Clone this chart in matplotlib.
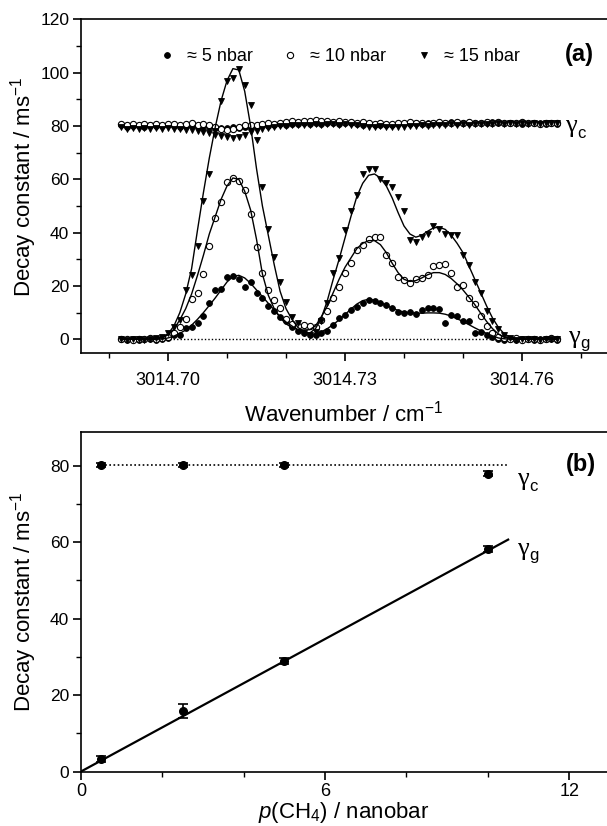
import matplotlib
matplotlib.use('Agg')
import matplotlib.pyplot as plt
from matplotlib.ticker import MultipleLocator, FixedLocator, FormatStrFormatter

plt.rcParams['font.family'] = ['Liberation Sans', 'DejaVu Sans']
plt.rcParams['mathtext.fontset'] = 'custom'
plt.rcParams['mathtext.rm'] = 'Liberation Sans'
plt.rcParams['mathtext.it'] = 'Liberation Sans:italic'
plt.rcParams['mathtext.bf'] = 'Liberation Sans:bold'

# ---- panel (a): decay constants vs wavenumber ----
wn = [3014.692, 3014.693, 3014.694, 3014.695, 3014.696, 3014.697, 3014.698, 3014.699, 3014.700, 3014.701,
      3014.702, 3014.703, 3014.704, 3014.705, 3014.706, 3014.707, 3014.708, 3014.709, 3014.710, 3014.711,
      3014.712, 3014.713, 3014.714, 3014.715, 3014.716, 3014.717, 3014.718, 3014.719, 3014.720, 3014.721,
      3014.722, 3014.723, 3014.724, 3014.725, 3014.726, 3014.727, 3014.728, 3014.729, 3014.730, 3014.731,
      3014.732, 3014.733, 3014.734, 3014.735, 3014.736, 3014.737, 3014.738, 3014.739, 3014.740, 3014.741,
      3014.742, 3014.743, 3014.744, 3014.745, 3014.746, 3014.747, 3014.748, 3014.749, 3014.750, 3014.751,
      3014.752, 3014.753, 3014.754, 3014.755, 3014.756, 3014.757, 3014.758, 3014.759, 3014.760, 3014.761,
      3014.762, 3014.763, 3014.764, 3014.765, 3014.766]

# gamma_g data points
g5 = [0.2, -0.1, 0.1, -0.2, 0.0, 0.3, -0.1, 0.2, 0.4, 1.8,
      1.5, 4.2, 4.8, 6.2, 8.8, 13.5, 18.5, 19.0, 23.2, 23.8,
      22.6, 19.8, 21.4, 17.2, 15.5, 12.6, 10.5, 8.3, 6.8, 4.6,
      3.2, 2.3, 1.6, 1.5, 2.2, 3.0, 5.5, 8.0, 9.0, 11.0,
      12.3, 13.8, 14.6, 14.3, 13.5, 12.8, 11.6, 10.3, 10.0, 10.4,
      9.5, 11.0, 11.6, 11.9, 11.2, 6.0, 9.0, 8.8, 7.0, 6.8,
      2.5, 2.8, 1.5, 0.8, 0.3, -0.2, 0.1, -0.1, 0.2, 0.0,
      -0.2, 0.1, 0.0, 0.2, -0.1]
g10 = [0.1, 0.3, -0.2, 0.2, 0.0, 0.4, 0.1, 0.5, 0.8, 2.5,
       4.5, 7.8, 15.0, 17.5, 24.5, 35.0, 45.5, 51.5, 59.0, 60.4,
       59.5, 56.0, 47.0, 34.8, 24.8, 18.5, 14.7, 11.6, 7.5, 5.8,
       5.0, 5.4, 5.0, 4.5, 7.2, 10.8, 15.5, 19.5, 25.0, 28.7,
       33.5, 35.4, 37.5, 38.2, 38.3, 31.6, 28.5, 23.5, 22.2, 21.2,
       22.7, 23.0, 24.0, 27.5, 27.8, 28.1, 24.8, 19.5, 20.3, 15.6,
       13.1, 8.7, 4.9, 2.2, 1.0, 0.4, 0.2, 0.5, -0.1, 0.3,
       0.1, -0.2, 0.2, 0.5, 0.1]
g15 = [0.0, -0.2, 0.2, 0.1, -0.1, 0.3, 0.5, 1.0, 2.5, 4.5,
       7.2, 18.5, 24.0, 35.0, 52.0, 62.0, 78.0, 89.5, 96.7, 97.9,
       101.5, 95.3, 88.0, 74.8, 57.0, 41.5, 31.0, 21.5, 14.0, 8.5,
       6.0, 2.5, 1.8, 2.8, 7.0, 13.5, 25.0, 30.5, 41.0, 48.0,
       54.0, 61.9, 63.8, 63.8, 60.0, 58.5, 57.0, 53.5, 48.0, 37.3,
       36.5, 38.5, 39.5, 42.5, 41.5, 39.5, 39.1, 39.0, 31.5, 28.0,
       21.5, 17.5, 10.5, 7.0, 4.0, 1.5, 0.4, -0.2, 0.3, 0.0,
       0.2, -0.1, 0.1, 0.0, 0.2]

# fitted curves for gamma_g
fit5 = [0, 0, 0, 0, 0, 0, 0, 0.1, 0.5, 1.2,
        2.2, 3.5, 5.3, 7.5, 10, 12.7, 15.5, 18.5, 21.5, 23.5,
        24, 23, 21, 18.5, 16, 13.5, 11, 8.5, 6.5, 5,
        3.5, 2.3, 1.8, 2, 2.8, 4, 5.5, 7.3, 9.3, 11.3,
        13.2, 14.5, 15, 14.7, 13.8, 12.7, 11.7, 10.8, 10.2, 9.9,
        9.8, 9.8, 9.9, 9.9, 9.8, 9.4, 8.7, 7.7, 6.7, 5.5,
        4.3, 3.2, 2.2, 1.3, 0.5, 0.2, 0, 0, 0, 0,
        0, 0, 0, 0, 0]
fit10 = [0, 0, 0, 0, 0, 0, 0.2, 0.6, 1.7, 3.8,
         7.3, 11.5, 17, 24, 31.5, 39.5, 46, 52.5, 57.5, 60.5,
         60, 55.5, 48.5, 37.5, 24.5, 16.5, 11.5, 8, 5.8, 4.4,
         3.7, 3.5, 3.6, 5, 8.5, 12.5, 17.5, 22.5, 27, 30.5,
         34, 36, 37, 37, 35.5, 32.5, 28.5, 25, 22.5, 21.7,
         22, 23, 24.2, 25, 25, 24.3, 22.8, 20.8, 18.5, 15.8,
         13, 9.8, 6.7, 4, 2, 0.8, 0.3, 0, 0, 0,
         0, 0, 0, 0, 0]
fit15 = [0, 0, 0, 0, 0, 0, 0.2, 0.7, 2, 5,
         10, 17, 26.5, 41, 55, 68, 79.5, 89.5, 97, 101.5,
         101, 93, 80, 64, 50, 39, 28, 18, 11.5, 7.5,
         4.5, 2.8, 2.3, 4, 8, 14.5, 22.5, 30, 38, 46,
         53.5, 58.5, 61.5, 62, 60.5, 57.5, 53, 47.5, 42.5, 39.5,
         38.3, 39, 40.5, 41.8, 42, 41.2, 39, 36, 32.5, 27.5,
         22.5, 17.5, 12.5, 8, 4.5, 2, 0.8, 0.3, 0, 0,
         0, 0, 0, 0, 0]

# gamma_c data points
c5 = [80.3, 79.8, 80.1, 80.0, 79.7, 80.2, 80.0, 79.9, 80.3, 80.1,
      79.8, 80.0, 80.2, 79.9, 80.1, 79.8, 79.6, 79.4, 79.3, 79.5,
      79.2, 79.6, 79.8, 80.0, 80.3, 80.1, 80.4, 80.6, 80.5, 80.8,
      80.7, 81.0, 80.9, 81.2, 80.8, 81.0, 81.1, 80.9, 81.3, 81.0,
      80.7, 80.5, 80.6, 80.4, 80.2, 80.5, 80.3, 80.6, 80.8, 80.7,
      81.0, 80.9, 81.1, 81.3, 81.0, 81.2, 81.4, 81.1, 81.3, 81.2,
      81.0, 81.3, 81.1, 81.4, 81.2, 81.0, 81.3, 81.1, 80.9, 81.2,
      81.0, 81.1, 80.8, 81.0, 80.9]
c10 = [80.6, 80.2, 80.9, 80.4, 80.7, 80.3, 80.8, 80.5, 80.9, 80.6,
       80.4, 80.8, 81.0, 80.5, 80.7, 80.3, 79.6, 78.8, 78.5, 79.0,
       79.8, 80.2, 80.5, 80.3, 80.7, 81.0, 80.8, 81.3, 81.5, 81.8,
       81.6, 82.0, 81.8, 82.1, 81.7, 81.9, 81.5, 81.8, 81.4, 81.6,
       81.2, 81.5, 81.0, 80.8, 81.1, 80.6, 80.9, 81.2, 81.0, 81.4,
       81.1, 81.3, 80.9, 81.2, 81.5, 81.0, 81.3, 81.6, 81.2, 81.4,
       81.0, 81.3, 81.5, 81.1, 81.4, 81.2, 81.0, 81.3, 81.5, 81.1,
       81.3, 80.9, 81.2, 81.0, 81.3]
c15 = [79.5, 79.0, 79.3, 78.9, 79.2, 78.8, 79.1, 78.9, 79.2, 78.7,
       79.0, 78.6, 78.5, 78.2, 77.8, 77.2, 76.6, 76.1, 75.7, 75.5,
       76.0, 76.8, 77.6, 78.3, 78.9, 79.3, 79.6, 79.9, 80.1, 80.3,
       80.2, 80.5, 80.4, 80.7, 80.5, 80.8, 80.6, 80.4, 80.7, 80.5,
       80.2, 80.0, 79.8, 79.6, 79.9, 79.7, 79.5, 79.8, 79.6, 79.9,
       80.1, 80.3, 80.0, 80.4, 80.2, 80.5, 80.6, 80.3, 80.7, 80.5,
       80.8, 80.6, 80.9, 80.7, 81.0, 80.8, 81.1, 80.9, 81.0, 80.8,
       81.1, 80.9, 81.2, 81.0, 81.1]

labels_a = ['\u2248 5 nbar', '\u2248 10 nbar', '\u2248 15 nbar']

# ---- panel (b): decay constants vs pressure ----
p_ch4 = [0.5, 2.5, 5.0, 10.0]
gam_c = [80.2, 80.2, 80.2, 78.0]
gam_c_err = [0.6, 0.5, 0.6, 0.6]
gam_g = [3.2, 15.8, 29.0, 58.2]
gam_g_err = [0.8, 1.8, 0.8, 0.8]
fit_p = [0.0, 10.5]
fit_g = [0.0, 60.7]
ref_p = [0.5, 10.5]
ref_c = [80.2, 80.2]

W, H = 607, 826
fig = plt.figure(figsize=(W / 100, H / 100), dpi=100)
ax1 = fig.add_axes([81 / W, 1 - 353.3 / H, 526 / W, 334 / H])
ax2 = fig.add_axes([81 / W, 1 - 771.5 / H, 526 / W, 340 / H])

dots = (0, (1, 1.5))

# panel (a)
ax1.plot([wn[0], wn[-1]], [0, 0], color='k', ls=dots, lw=1.0, zorder=1)
for fit in (fit5, fit10, fit15):
    ax1.plot(wn, fit, color='k', lw=1.0, zorder=3)

sty5 = dict(marker='o', ls='none', ms=4.2, mfc='k', mec='k', mew=0.6)
sty10 = dict(marker='o', ls='none', ms=4.5, mfc='white', mec='k', mew=0.8)
sty15 = dict(marker='v', ls='none', ms=5.0, mfc='k', mec='k', mew=0.6)

ax1.plot(wn, c5, zorder=2, **sty5)
ax1.plot(wn, c10, zorder=2, **sty10)
ax1.plot(wn, c15, zorder=2, **sty15)
h5, = ax1.plot(wn, g5, zorder=2, label=labels_a[0], **sty5)
h10, = ax1.plot(wn, g10, zorder=2, label=labels_a[1], **sty10)
h15, = ax1.plot(wn, g15, zorder=2, label=labels_a[2], **sty15)

ax1.set_xlim(3014.68525, 3014.77441)
ax1.set_ylim(-5.25, 120)
ax1.xaxis.set_major_locator(FixedLocator([3014.70, 3014.73, 3014.76]))
ax1.xaxis.set_minor_locator(FixedLocator([3014.69, 3014.71, 3014.72, 3014.74, 3014.75, 3014.77]))
ax1.xaxis.set_major_formatter(FormatStrFormatter('%.2f'))
ax1.yaxis.set_major_locator(MultipleLocator(20))
ax1.yaxis.set_minor_locator(MultipleLocator(10))
ax1.set_xlabel('Wavenumber / cm$^{-1}$', fontsize=16, labelpad=8)
ax1.set_ylabel('Decay constant / ms$^{-1}$', fontsize=16)
ax1.yaxis.set_label_coords(-0.08, 0.5)

leg = ax1.legend(handles=[h5, h10, h15], ncol=3, loc='center', bbox_to_anchor=(0.49, 0.888),
                 frameon=False, fontsize=13, numpoints=1, handlelength=1.0,
                 handletextpad=0.6, columnspacing=1.6, borderpad=0)
ax1.text(0.947, 0.896, '(a)', transform=ax1.transAxes, fontsize=17, fontweight='bold',
         ha='center', va='center')

# panel (b)
ax2.plot(fit_p, fit_g, color='k', lw=1.6, zorder=2)
ax2.plot(ref_p, ref_c, color='k', ls=dots, lw=1.2, zorder=1)
ax2.errorbar(p_ch4, gam_g, yerr=gam_g_err, fmt='o', color='k', ms=5.5, capsize=3.5,
             elinewidth=1.2, capthick=1.2, zorder=3)
ax2.errorbar(p_ch4, gam_c, yerr=gam_c_err, fmt='o', color='k', ms=5.5, capsize=3.5,
             elinewidth=1.2, capthick=1.2, zorder=3)
ax2.set_xlim(0, 12.93)
ax2.set_ylim(0, 89)
ax2.xaxis.set_major_locator(MultipleLocator(6))
ax2.xaxis.set_minor_locator(MultipleLocator(2))
ax2.yaxis.set_major_locator(MultipleLocator(20))
ax2.yaxis.set_minor_locator(MultipleLocator(10))
ax2.set_xlabel('$\\mathit{p}$(CH$_4$) / nanobar', fontsize=16, labelpad=0)
ax2.set_ylabel('Decay constant / ms$^{-1}$', fontsize=16)
ax2.yaxis.set_label_coords(-0.08, 0.5)
ax2.text(0.95, 0.903, '(b)', transform=ax2.transAxes, fontsize=17, fontweight='bold',
         ha='center', va='center')


def gamma_label(ax, x, y, sub):
    ax.text(x, y, '\u03b3', transform=ax.transAxes, family='Liberation Serif',
            fontsize=19, ha='left', va='center')
    ax.annotate(sub, xy=(x, y), xycoords='axes fraction', xytext=(8.5, -5),
                textcoords='offset points', fontsize=12, ha='left', va='center')


gamma_label(ax1, 0.921, 0.68, 'c')
gamma_label(ax1, 0.926, 0.05, 'g')
gamma_label(ax2, 0.829, 0.86, 'c')
gamma_label(ax2, 0.829, 0.655, 'g')

for ax in (ax1, ax2):
    ax.spines['right'].set_visible(False)
    for s in ('left', 'bottom', 'top'):
        ax.spines[s].set_linewidth(1.2)
    ax.tick_params(which='major', direction='out', length=5.5, width=1.2, labelsize=12.5, pad=3)
    ax.tick_params(which='minor', direction='out', length=3.5, width=1.0)
    ax.tick_params(top=False, right=False, which='both')
ax1.tick_params(axis='x', which='major', labelsize=13, pad=8)
ax2.tick_params(axis='x', which='major', labelsize=13, pad=3)

fig.savefig('out.png', dpi=100)
